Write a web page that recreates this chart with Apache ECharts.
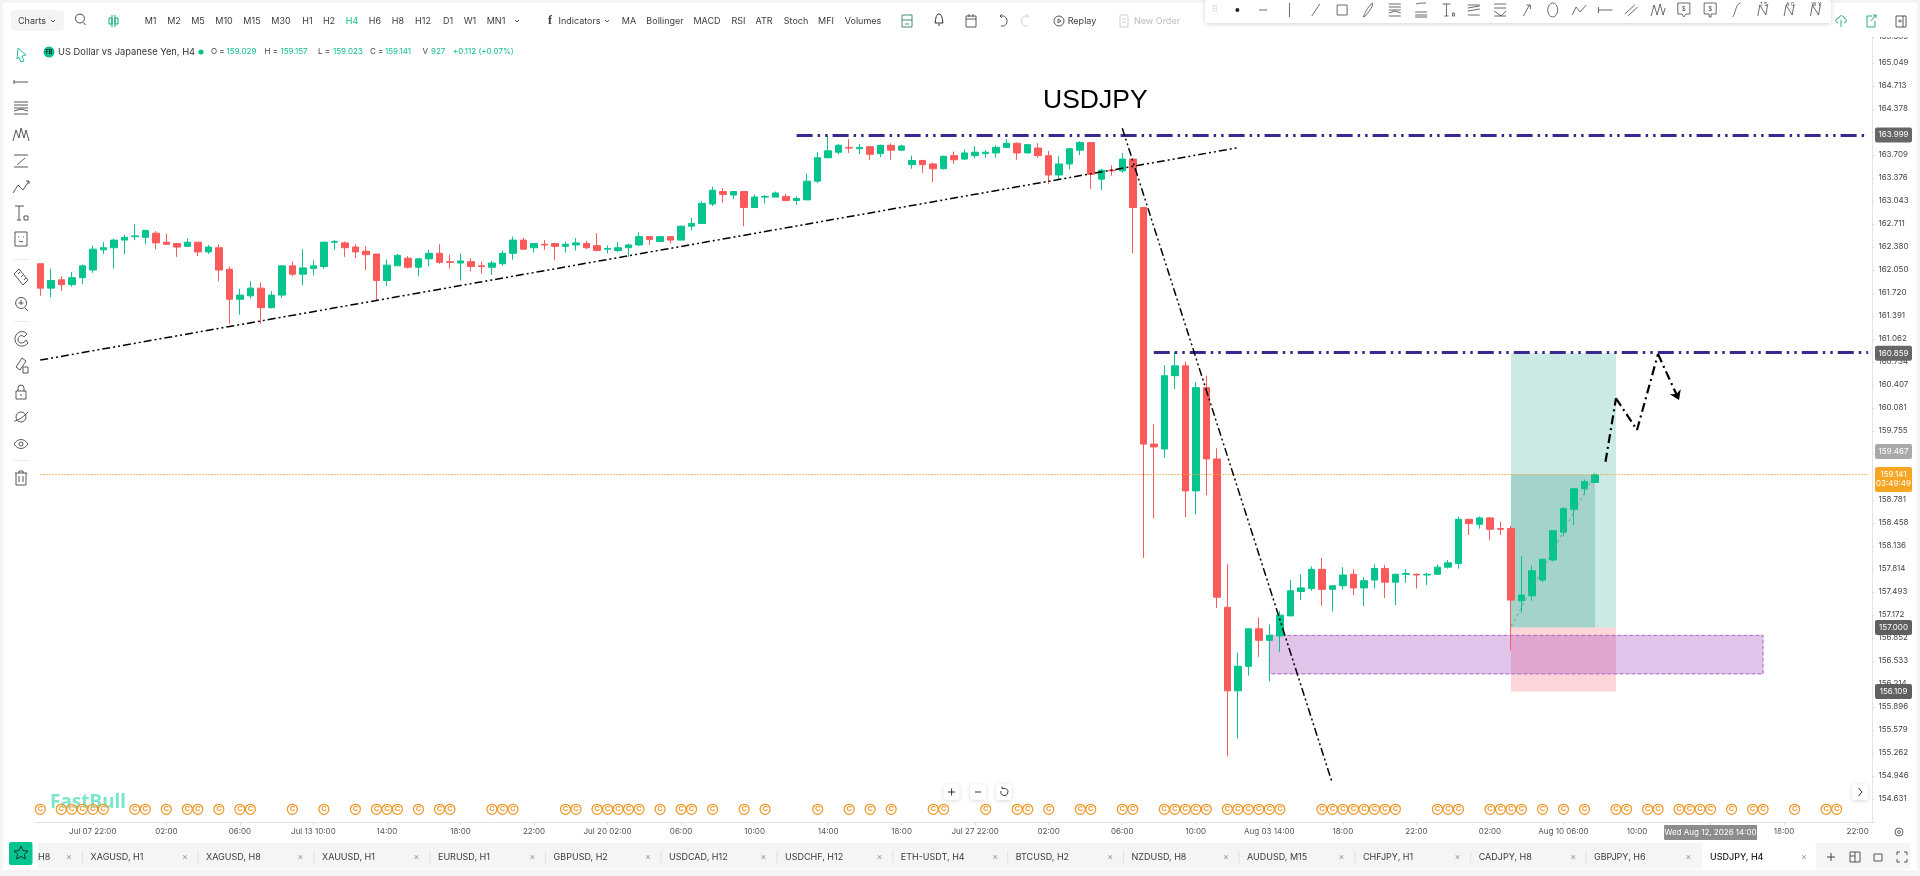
<!DOCTYPE html>
<html><head><meta charset="utf-8"><title>USDJPY</title>
<style>html,body{margin:0;padding:0;background:#fff;overflow:hidden}#c{width:1920px;height:876px}</style>
<script src="https://cdn.jsdelivr.net/npm/echarts@6/dist/echarts.min.js"></script>
</head><body><div id="c"></div>
<script>
// ---------- values ----------
const xTickLabels=["Jul 07 22:00","02:00","06:00","Jul 13 10:00","14:00","18:00","22:00","Jul 20 02:00","06:00","10:00","14:00","18:00","Jul 27 22:00","02:00","06:00","10:00","Aug 03 14:00","18:00","22:00","02:00","Aug 10 06:00","10:00","14:00","18:00","22:00"];
const yTickLabels=["154.631","154.946","155.262","155.579","155.896","156.214","156.533","156.852","157.172","157.493","157.814","158.136","158.458","158.781","159.107","159.430","159.755","160.081","160.407","160.734","161.062","161.391","161.720","162.050","162.380","162.711","163.043","163.376","163.709","164.043","164.378","164.713","165.049","165.385"];
// open, close, low, high
const ohlc=[
[162.14,161.79,161.68,162.14],[161.79,161.90,161.66,162.07],[161.91,161.84,161.75,161.96],[161.84,161.94,161.81,162.02],[161.94,162.11,161.85,162.13],
[162.05,162.35,162.01,162.40],[162.34,162.37,162.28,162.45],[162.37,162.48,162.07,162.50],[162.48,162.52,162.28,162.56],[162.53,162.54,162.48,162.71],
[162.52,162.62,162.42,162.63],[162.58,162.44,162.35,162.61],[162.45,162.42,162.41,162.57],[162.43,162.38,162.24,162.44],[162.39,162.45,162.38,162.50],
[162.45,162.31,162.25,162.45],[162.31,162.38,162.28,162.41],[162.37,162.05,161.89,162.42],[162.06,161.63,161.28,162.10],[161.63,161.69,161.41,161.78],
[161.68,161.79,161.64,161.89],[161.79,161.51,161.28,161.87],[161.51,161.69,161.50,161.75],[161.69,162.11,161.65,162.11],[162.11,161.99,161.96,162.17],
[161.99,162.08,161.83,162.35],[162.07,162.11,161.97,162.19],[162.10,162.45,162.07,162.46],[162.45,162.46,162.34,162.48],[162.44,162.37,162.24,162.46],
[162.38,162.31,162.22,162.42],[162.32,162.27,162.05,162.39],[162.28,161.90,161.62,162.28],[161.90,162.12,161.82,162.20],[162.11,162.26,162.11,162.28],
[162.22,162.09,162.07,162.25],[162.09,162.21,161.96,162.22],[162.21,162.29,162.10,162.34],[162.29,162.16,162.14,162.42],[162.17,162.16,162.07,162.27],
[162.15,162.18,161.90,162.29],[162.17,162.10,162.03,162.22],[162.11,162.10,162.00,162.17],[162.09,162.15,161.98,162.18],[162.14,162.29,162.11,162.33],
[162.29,162.48,162.20,162.53],[162.48,162.35,162.34,162.51],[162.37,162.43,162.30,162.44],[162.42,162.41,162.34,162.48],[162.43,162.39,162.19,162.44],
[162.39,162.42,162.30,162.46],[162.41,162.44,162.33,162.51],[162.43,162.37,162.35,162.47],[162.40,162.33,162.32,162.58],[162.35,162.36,162.29,162.40],
[162.33,162.37,162.31,162.45],[162.37,162.41,162.24,162.43],[162.41,162.53,162.39,162.59],[162.53,162.49,162.41,162.53],[162.46,162.53,162.45,162.54],
[162.53,162.48,162.43,162.54],[162.48,162.68,162.48,162.69],[162.68,162.72,162.62,162.80],[162.72,163.01,162.71,163.04],[163.00,163.20,162.97,163.25],
[163.18,163.14,163.02,163.23],[163.13,163.18,163.07,163.19],[163.18,162.95,162.68,163.18],[162.95,163.10,162.94,163.14],[163.10,163.11,163.01,163.13],
[163.10,163.16,163.10,163.18],[163.11,163.05,163.04,163.15],[163.05,163.08,162.99,163.11],[163.06,163.33,163.06,163.44],[163.33,163.67,163.30,163.75],
[163.67,163.77,163.66,163.99],[163.75,163.85,163.72,163.87],[163.82,163.81,163.74,163.94],[163.80,163.82,163.72,163.87],[163.83,163.72,163.64,163.84],
[163.73,163.85,163.68,163.86],[163.85,163.78,163.64,163.88],[163.78,163.84,163.77,163.86],[163.57,163.63,163.51,163.70],[163.63,163.57,163.45,163.64],
[163.58,163.51,163.32,163.60],[163.51,163.69,163.50,163.70],[163.70,163.64,163.58,163.76],[163.65,163.74,163.64,163.79],[163.70,163.75,163.66,163.84],
[163.73,163.75,163.67,163.78],[163.74,163.82,163.67,163.85],[163.82,163.88,163.81,163.94],[163.88,163.74,163.64,163.89],[163.74,163.86,163.73,163.87],
[163.81,163.70,163.67,163.88],[163.70,163.42,163.29,163.77],[163.42,163.58,163.36,163.69],[163.58,163.80,163.50,163.81],[163.78,163.89,163.71,163.91],
[163.89,163.43,163.22,163.89],[163.36,163.49,163.20,163.51],[163.49,163.48,163.41,163.56],[163.48,163.65,163.45,163.74],[163.65,162.95,162.29,163.65],
[162.95,159.57,157.97,162.95],[159.57,159.53,158.52,159.85],[159.50,160.54,159.38,160.69],[160.54,160.68,160.35,160.88],[160.68,158.91,158.54,160.74],
[158.91,160.37,158.58,160.45],[160.37,159.36,158.85,160.54],[159.36,157.42,157.27,159.51],[157.28,156.12,155.22,157.88],[156.12,156.46,155.46,156.65],
[156.46,156.98,156.33,156.98],[156.98,156.82,156.59,157.14],[156.82,156.89,156.25,157.04],[156.88,157.17,156.66,157.23],[157.16,157.51,157.16,157.66],
[157.50,157.55,157.38,157.74],[157.54,157.81,157.51,157.85],[157.81,157.53,157.30,157.97],[157.53,157.58,157.22,157.58],[157.58,157.73,157.53,157.84],
[157.74,157.55,157.45,157.81],[157.55,157.65,157.30,157.70],[157.66,157.82,157.54,157.88],[157.82,157.63,157.41,157.87],[157.63,157.74,157.31,157.75],
[157.74,157.75,157.62,157.81],[157.74,157.73,157.54,157.75],[157.73,157.74,157.59,157.76],[157.74,157.84,157.73,157.88],[157.84,157.90,157.82,157.94],
[157.89,158.51,157.82,158.55],[158.51,158.45,158.29,158.51],[158.44,158.53,158.38,158.55],[158.53,158.37,158.22,158.54],[158.38,158.37,158.29,158.48],
[158.38,157.38,156.68,158.42],[157.37,157.45,157.20,157.99],[157.44,157.79,157.37,157.86],[157.66,157.95,157.63,157.96],[157.94,158.35,157.92,158.36],
[158.33,158.66,158.27,158.68],[158.65,158.94,158.43,158.95],[158.94,159.04,158.85,159.07],[159.029,159.141,159.023,159.157]];
const calendarBars=[0,2,3,4,5,6,9,10,12,14,15,17,19,20,24,27,30,32,33,34,36,38,39,43,44,45,50,51,53,54,55,56,57,59,61,62,64,67,69,74,77,79,81,85,86,90,93,94,96,99,100,103,104,107,108,109,110,111,113,114,115,116,117,118,122,123,124,125,126,127,128,129,133,134,135,138,139,140,141,143,145,147,150,151,153,154,156,157,158,159,161,163,164,167,170,171];
const calendarPrice=154.49;
const resistanceTop=[[72,163.999],[174,163.999]];
const resistanceLow=[[106,160.88],[174,160.88]];
const trendUp=[[0,160.762],[114,163.815]];
const trendDown=[[103,164.099],[123,154.846]];
const projection=[[149,159.321],[150,160.219],[152,159.769],[154,160.848],[156,160.194]];
const riskDiagonal=[[140,157.01],[148,159.15]];
const lastPrice=159.141;
const targetBox=[[140,160.859],[150,157.000]];
const reachedBox=[[140,159.141],[148,157.000]];
const stopBox=[[140,157.000],[150,156.109]];
const zoneBox=[[117,156.889],[164,156.354]];
const priceTags=[[163.999,'#666666'],[160.859,'#666666'],[157.000,'#5f5f5f'],[156.109,'#5f5f5f'],[159.467,'#a9a9a9']];
const crosshairBar=159, crosshairLabel="Wed Aug 12, 2026 14:00";
const barCount=175;

// ---------- scales ----------
const logBase=Math.exp(Math.log(154.631)/2474);
const categories=[];
for(let i=0;i<barCount;i++){categories.push((i-5)%7===0&&i>=5?xTickLabels[(i-5)/7]:'');}
const FONT='Inter, "Noto Sans", sans-serif';
const GREEN='#05c48e',RED='#fb5a5a',BLACKDASH=[8,3,2,3,2,3];
const pair=(p,style,end)=>[{coord:p[0],lineStyle:style,symbol:'none'},Object.assign({coord:p[1],symbol:'none'},end||{})];
const black=(w)=>({color:'#000',width:w,type:BLACKDASH,opacity:1});
const purple={color:'#3a2a90',width:3,type:[16,5,2.5,5,2.5,5],opacity:1};
const zig=[];
for(let i=0;i+1<projection.length;i++){
  zig.push(pair([projection[i],projection[i+1]],{color:'#000',width:2.2,type:[9,4,2,4],opacity:1},
    i+2===projection.length?{symbol:'arrow',symbolSize:9}:null));
}
const box=(b,style)=>[{coord:b[0],itemStyle:style},{coord:b[1]}];

const chart=echarts.init(document.getElementById('c'),null,{renderer:'canvas',width:1920,height:876});
chart.setOption({
  animation:false,
  backgroundColor:'#fff',
  grid:{left:35,width:barCount*10.505,top:37,height:785,containLabel:false},
  xAxis:{type:'category',data:categories,boundaryGap:true,
    axisLine:{lineStyle:{color:'#e2e3e5',width:1}},
    axisTick:{show:true,alignWithLabel:true,length:3,lineStyle:{color:'#dcdcdc'},interval:(i)=>i>=5&&(i-5)%7===0},
    axisLabel:{interval:(i)=>i>=5&&(i-5)%7===0,fontSize:8,color:'#555',margin:6,fontFamily:FONT,hideOverlap:false},
    splitLine:{show:false}},
  yAxis:{type:'log',logBase:logBase,position:'right',offset:-1,
    min:Math.pow(logBase,2473),max:Math.pow(logBase,2507.13),interval:1,
    axisLine:{show:true,lineStyle:{color:'#e2e3e5',width:1}},
    axisTick:{show:true,length:2,lineStyle:{color:'#dcdcdc'}},
    axisLabel:{fontSize:8,color:'#444',margin:6,fontFamily:FONT,hideOverlap:false,showMinLabel:true,showMaxLabel:true,
      formatter:(v)=>{const n=Math.round(Math.log(v)/Math.log(logBase))-2474;return yTickLabels[n]||'';}},
    splitLine:{show:false},minorTick:{show:false},minorSplitLine:{show:false}},
  series:[
   {type:'candlestick',name:'USDJPY',data:ohlc,barWidth:7,
    itemStyle:{color:GREEN,color0:RED,borderColor:GREEN,borderColor0:RED,borderWidth:1},
    markArea:{silent:true,animation:false,data:[
      box(targetBox,{color:'rgba(0,150,120,0.2)'}),
      box(reachedBox,{color:'rgba(0,120,100,0.2)'}),
      box(stopBox,{color:'rgba(250,80,90,0.24)'}),
      box(zoneBox,{color:'rgba(160,70,190,0.32)',borderColor:'#a968c4',borderWidth:1,borderType:'dashed'})
    ]},
    markLine:{silent:true,animation:false,symbol:['none','none'],label:{show:false},precision:4,data:[
      [{coord:[0,lastPrice],lineStyle:{color:'#f0a63c',width:1,type:[1.5,1.5],opacity:1}},{coord:[174,lastPrice]}],
      pair(resistanceTop,purple),pair(resistanceLow,purple),
      pair(trendUp,black(1.5)),pair(trendDown,black(1.5)),
      pair(riskDiagonal,{color:'#7f9f98',width:1,type:[3,3],opacity:1})
    ].concat(zig)}
   },
   {type:'scatter',name:'Calendar',data:calendarBars.map(i=>[i,calendarPrice]),symbol:'circle',symbolSize:10,z:6,silent:true,
    itemStyle:{color:'rgba(255,255,255,0.3)',borderColor:'#ee9420',borderWidth:1.2,opacity:1},
    label:{show:true,position:'inside',formatter:'C',fontSize:7.5,fontWeight:'bold',color:'#ee9420',fontFamily:'"Liberation Sans"'}}
  ]
});

// ---------- chrome around the chart ----------
const g=[];
const Z=100;
const T=(text,x,y,o)=>{o=o||{};g.push({type:'text',x,y,z:o.z||Z+2,silent:true,style:{text,fontSize:o.size||9,fontFamily:o.font||FONT,fontWeight:o.weight||'normal',fill:o.color||'#3c3c3c',align:o.align||'left',textAlign:o.align||'left',verticalAlign:'middle',textVerticalAlign:'middle'}});};
const R=(x,y,w,h,fill,o)=>{o=o||{};g.push({type:'rect',z:o.z||Z,silent:true,shape:{x,y,width:w,height:h,r:o.r||0},style:{fill,stroke:o.stroke||null,shadowBlur:o.blur||0,shadowColor:o.shadow||'transparent',shadowOffsetY:o.blur?1:0}});};
const shapeNames={};let shapeCount=0;
const P=(d,x,y,o)=>{o=o||{};
  if(!shapeNames[d]){shapeNames[d]='ic'+(shapeCount++);echarts.graphic.registerShape(shapeNames[d],echarts.graphic.extendPath(d,{}));}
  g.push({type:shapeNames[d],x,y,z:o.z||Z+2,silent:true,style:{fill:o.fill||'none',stroke:o.stroke===undefined?'#454545':o.stroke,lineWidth:o.lw||0.9}});};

// frame
R(0,0,1920,37,'#fff',{z:Z-1});
R(0,0,1920,3,'#f4f4f5',{z:Z});R(0,0,3,876,'#f4f4f5',{z:Z});R(1917,0,3,876,'#f4f4f5',{z:Z});R(0,870,1920,6,'#f4f4f5',{z:Z});
// top bar
R(11,10,53,21,'#f3f4f6',{r:4});
T('Charts',18,21);P('M0 0L2 2L4 0',51,20);
P('M3 -5A4.5 4.5 0 1 1 2.9 -5M6.5 3.5L8.5 6',77,19,{lw:1});
P('M0 -6V6M-3 -3H0V3H-3ZM3 -6V6M3 -3H6V3H3Z',112,21,{stroke:'#0fa77d',lw:1});
[['M1',150.6],['M2',174],['M5',198],['M10',224],['M15',252],['M30',281],['H1',307.5],['H2',329],['H4',352],['H6',375],['H8',398],['H12',423],['D1',448],['W1',470],['MN1',496]].forEach(a=>T(a[0],a[1],21,{align:'center',color:a[0]==='H4'?'#0ec28f':'#3c3c3c'}));
P('M0 0L2 2L4 0',515,20);
T('f',550,21,{align:'center',size:12,weight:'bold',font:'"Liberation Serif"'});
T('Indicators',558.5,21);P('M0 0L2 2L4 0',605,20);
[['MA',629],['Bollinger',665],['MACD',707],['RSI',738.5],['ATR',764],['Stoch',796],['MFI',826],['Volumes',863]].forEach(a=>T(a[0],a[1],21,{align:'center'}));
P('M-5 -6H5V6H-5ZM-5 -1H5M-2 3H2',907,21,{stroke:'#2f7f6b'});
P('M-4 3C-3 -2 -3 -6 0 -6C3 -6 3 -2 4 3ZM-1 5H1',939,20,{stroke:'#2a2a2a',lw:1});
P('M-5 -5H5V6H-5ZM-5 -2H5M-2 -7V-4M2 -7V-4',971,21);
P('M-3 -5L-1 -7M-3 -5L-1 -3M-3 -5H0A4 5 0 0 1 0 5H-2',1003,21);
P('M3 -5L1 -7M3 -5L1 -3M3 -5H0A4 5 0 0 0 0 5H2',1025.5,21,{stroke:'#c8c8c8'});
P('M-5 0A5 5 0 1 1 0 5A5 5 0 0 1 -5 0M-1 -2L2 0L-1 2Z',1059,21);
T('Replay',1082,21,{align:'center'});
P('M-4 -6H4V6H-4ZM-2 -2H2M-2 1H2',1124,21,{stroke:'#c9c9c9'});
T('New Order',1157,21,{align:'center',color:'#bdbdbd'});
// drawing toolbar
R(1205,0,626,23,'#fff',{z:Z+1,r:3,blur:5,shadow:'rgba(0,0,0,0.18)'});
const dt=['M0 0','M-4 0H4','M0 -7V7','M-4 6L4 -6','M-5 -5H5V5H-5Z','M-5 7C-3 1 1 -5 4 -7C5 -3 -1 3 -3 6Z','M-6 -6H6M-6 -3H6M-6 0H6M-6 3L0 1L6 3M-6 6H6','M-5 -6C-3 -7 2 -7 5 -7M-6 2H6M-6 5H6M-6 7H6','M-5 -6H3M-1 -6V6M-3 6H1M5 3H7V6H5Z','M-6 -5H6M-6 -2L6 -4M-6 1L6 -1M-6 5H6','M-6 -6H6M-6 -2H6M-6 1L1 6M6 1L1 6M-6 6H6','M-3 6L3 -5M0 -5H4V-1','M0 -7A5 7 0 1 1 -0.1 -7','M-7 5L-3 -3L1 2L7 -5','M-7 -3V3M-7 0H7','M-7 4L3 -5M-4 6L6 -3','M-7 6L-4 -5L-1 5L2 -6L5 5L7 -2','M-6 -7H6V4H2L0 7L-2 4H-6Z','M-6 -7H6V4H1V7H-1V4H-6Z','M-4 7C-1 4 -1 -6 4 -7','M-5 6L-3 -5L3 5L5 -6','M-5 6L-3 -5L3 5L5 -6','M-5 6L-3 -5L3 5L5 -6'];
const dtx=[453,495,538,581,624,667,710,753,796,839,882,925,968,1011,1054,1097,1140,1182,1225,1268,1311,1354,1397];
dtx.forEach((x,i)=>{if(i===0){g.push({type:'circle',z:Z+2,silent:true,shape:{cx:960+x/1.633,cy:10,r:2},style:{fill:'#222'}});}else{P(dt[i],960+x/1.633,10,{lw:0.8});}});
g.push({type:'text',x:1215,y:10,z:Z+2,silent:true,style:{text:'⠿',fontSize:9,fill:'#c9c9c9',align:'center',textAlign:'center',verticalAlign:'middle',textVerticalAlign:'middle',fontFamily:'"DejaVu Sans"'}});
[['$',1182],['$',1225]].forEach(a=>T(a[0],960+a[1]/1.633,9,{align:'center',size:6}));
[['1 S',1311],['A C',1354],['W Y',1397]].forEach(a=>T(a[0],960+a[1]/1.633+1,4,{align:'center',size:5}));
P('M-3 2C-6 2 -6 -3 -2 -3C-2 -6 3 -6 3 -3C6 -3 6 2 3 2M0 -1V6',1841,21,{stroke:'#12a07c'});
P('M-4 -5H1M-4 -5V6H4V0M0 0L5 -6M2 -6H5V-3',1871,21,{stroke:'#12a07c'});
P('M-5 -5H5V6H-5ZM2 -5V6M-2 0H1M-1 -1.5L-2.5 0L-1 1.5',1901,21);
// legend line
g.push({type:'circle',z:Z+2,silent:true,shape:{cx:49,cy:52,r:5.5},style:{fill:'#0cbf8b'}});
T('FB',49,52,{align:'center',size:5.5,color:'#123',weight:'bold'});
T('US Dollar vs Japanese Yen, H4',58,52,{size:9.35,color:'#333'});
g.push({type:'circle',z:Z+2,silent:true,shape:{cx:201,cy:52,r:2.6},style:{fill:'#0cbf8b'}});
[['O =',211],['H =',264.5],['L =',318],['C =',370],['V',422.5]].forEach(a=>T(a[0],a[1],52,{size:8,color:'#444'}));
[['159.029',226.6],['159.157',280.5],['159.023',333],['159.141',385],['927',431],['+0.112 (+0.07%)',453]].forEach(a=>T(a[0],a[1],52,{size:8,color:'#0cbf8b'}));
// left toolbar
const lt=[[55,'M-3 -7L5 0L1 1L3 6L0 7L-2 2L-4 4Z',{stroke:'#1bb795'}],[82,'M-7 0H7M-7 -2V2'],[108,'M-7 -6H7M-7 -3H7M-7 0H7M-7 3L0 1L7 3M-7 6H7'],[134,'M-8 7L-5 -4L-2 4L0 -6L3 4L5 -4L8 7'],[161,'M-7 -6H7M-7 6H7M-4 4L4 -3'],[187,'M-8 6L-3 -2L2 3L8 -6M5 -6H8V-3'],[213,'M-6 -7H3M-2 -7V7M-4 7H0M3 3H7V7H3Z'],[239,'M-6 -7H6V7H-6ZM-3 -2H-2M2 -2H3M-2 2C-1 3 1 3 2 2'],[277,'M-7 -3L-2 -8L7 3L2 8ZM-3 -3L-1 -5M0 0L2 -2M3 3L5 1'],[303,'M-5 -2A5.5 5.5 0 1 1 -5 2A5.5 5.5 0 0 1 -5 -2M0 -3V2M-2.5 0H2.5M4 5L7 8'],[338,'M-6 2C-7 -6 3 -9 6 -4L3 -1C1 -4 -3 -2 -3 2C-3 6 3 6 5 2L7 5C3 10 -5 9 -6 2Z'],[365,'M-5 2L1 -7L5 -4L-1 5ZM2 2H7V8H2Z'],[392,'M-5 -1H5V7H-5ZM-3 -1V-4A3 3 0 0 1 3 -4V-1M0 2V4'],[417,'M-5 0A5 5 0 1 1 5 0A5 5 0 1 1 -5 0M-7 4C-3 4 5 -2 7 -5'],[444,'M-7 0C-3 -6 3 -6 7 0C3 6 -3 6 -7 0ZM-2 0A2 2 0 1 1 2 0A2 2 0 1 1 -2 0'],[478,'M-6 -5H6M-2 -5V-7H2V-5M-5 -5V7H5V-5M-2 -2V4M2 -2V4']];
lt.forEach(a=>P(a[1],21,a[0],Object.assign({lw:0.9},a[2]||{})));
[259,321,460].forEach(y=>R(14,y,14,1,'#ececec'));
// headline + watermark
T('USDJPY',1043,101,{size:26.5,color:'#000',font:'"Liberation Sans"',z:Z});
T('FastBull',50,803,{size:19,color:'#7ce6c9',weight:'bold',z:1,font:'"Noto Sans"'});
// chart buttons
[[951.6,'M-3.5 0H3.5M0 -3.5V3.5'],[978,'M-3 0H3'],[1004,'M-3 -1A3.5 3.5 0 1 0 0 -3.5H-2M-2 -5.5V-3.5'],[1860,'M-1.5 -4L2 0L-1.5 4']].forEach(a=>{R(a[0]-8,784,16,16,'#fff',{r:3,blur:4,shadow:'rgba(0,0,0,0.15)',z:Z});P(a[1],a[0],792,{stroke:'#333',lw:1});});
P('M-4 0A4 4 0 1 1 4 0A4 4 0 1 1 -4 0M-1.5 0A1.5 1.5 0 1 1 1.5 0A1.5 1.5 0 1 1 -1.5 0',1899,832,{stroke:'#555'});
// tabs
R(38,843,1872,26,'#f4f5f6',{z:Z});
R(9,842,23.5,23,'#06c48f',{r:2});
P('M0 -7L2 -2.3L7 -2L3.3 1.2L4.4 6L0 3.5L-4.4 6L-3.3 1.2L-7 -2L-2 -2.3Z',21,853,{stroke:'#123',lw:0.9});
T('H8',38,857);
T('×',69,857,{align:'center',color:'#999',size:9});
[['XAGUSD, H1',90.6],['XAGUSD, H8',206],['XAUUSD, H1',322],['EURUSD, H1',438],['GBPUSD, H2',553.6],['USDCAD, H12',669],['USDCHF, H12',785],['ETH-USDT, H4',900.8],['BTCUSD, H2',1015.7],['NZDUSD, H8',1131.5],['AUDUSD, M15',1247],['CHFJPY, H1',1363],['CADJPY, H8',1478.7],['GBPJPY, H6',1594]].forEach(a=>{
  T(a[0],a[1],857);R(a[1]-8.5,851,1,12,'#dfe0e2',{z:Z+1});T('×',a[1]+94.5,857,{align:'center',color:'#999',size:9});});
R(1702,843,114,26,'#fff',{r:3,z:Z+1});
T('USDJPY, H4',1710,857,{weight:'500',color:'#222'});T('×',1804,857,{align:'center',color:'#999',size:9});
P('M-4 0H4M0 -4V4',1831,857,{lw:1});P('M-5 -5H5V5H-5ZM-5 -1H0M0 -5V5',1855,857);P('M-4 -3H4V4H-4Z',1878,857);P('M-5 -2V-5H-2M2 -5H5V-2M5 2V5H2M-2 5H-5V2',1902,857);

// price tags and crosshair label follow the axes
const tagY=(v)=>chart.convertToPixel({yAxisIndex:0},v);
priceTags.forEach(t=>{const y=tagY(t[0]);R(1875,y-7.5,37,15,t[1],{r:2,z:Z+3});T(t[0].toFixed(3),1893.5,y,{align:'center',color:'#fff',z:Z+4,size:8});});
const ly=tagY(lastPrice);
R(1875,ly-7.5,37,25,'#f6a623',{r:2,z:Z+3});
T(lastPrice.toFixed(3),1893.5,ly,{align:'center',color:'#fff',z:Z+4,size:8});
T('03:49:49',1893.5,ly+9,{align:'center',color:'#fff',z:Z+4,size:8});
const cx=chart.convertToPixel({xAxisIndex:0},crosshairBar);
R(cx-46.5,825,93,15,'#8c8c8c',{z:Z+3,r:1});
T(crosshairLabel,cx,832.5,{align:'center',color:'#fff',z:Z+4,size:8});
chart.setOption({graphic:{elements:g}});
</script></body></html>
